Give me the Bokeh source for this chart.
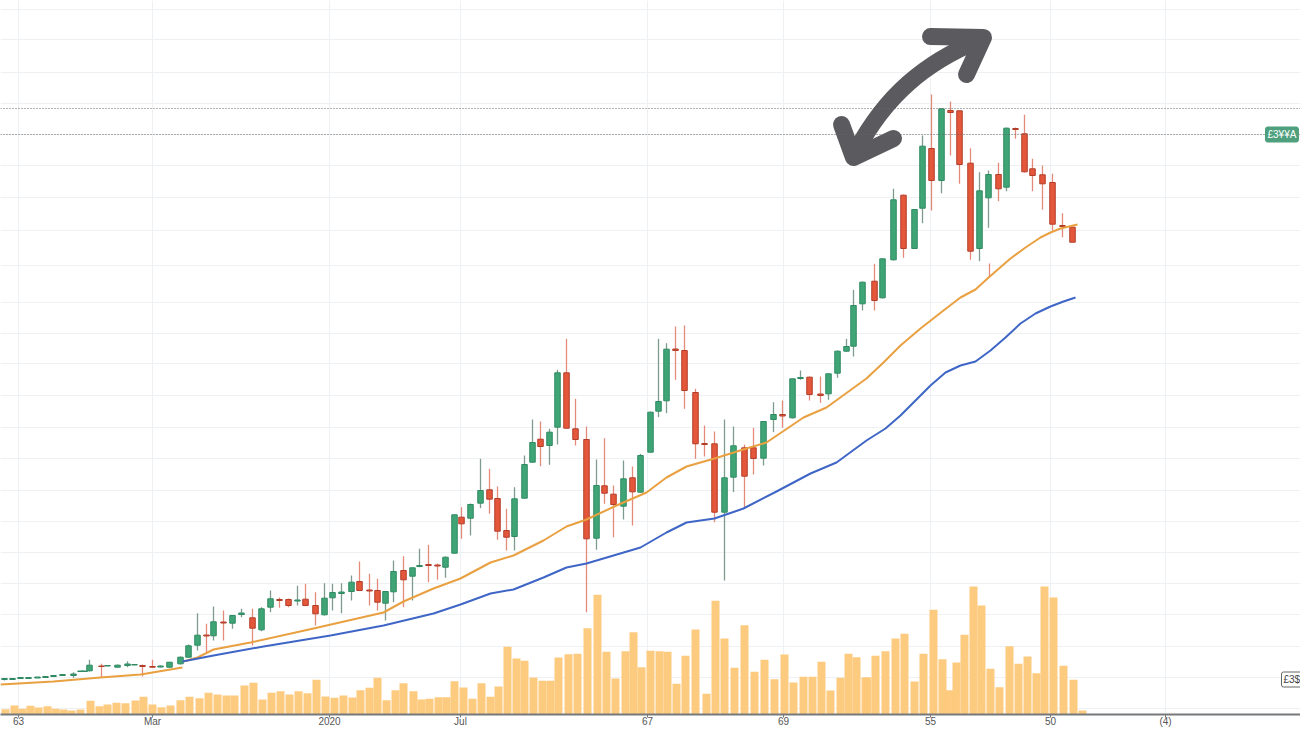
from bokeh.embed import file_html
from bokeh.resources import INLINE
from bokeh.plotting import figure
from bokeh.models import Range1d, FixedTicker, Span, Label

# ---- candles (day, open, close, high, low)
day = [4,12,20,28,37,45,53,62,73,80,84,89,101,107,117,127,134,142,152,160,169,180,188,197,206,213,223,232,241,252,261,270,279,288,297,305,315,324,332,341,351,359,369,377,385,393,403,412,419,428,437,445,454,461,470,480,489,497,506,514,524,532,540,549,557,566,575,586,596,604,613,623,632,640,650,658,666,675,684,695,704,714,724,733,744,753,763,773,782,792,800,809,820,828,837,846,853,862,874,882,893,903,914,922,931,941,950,959,970,979,988,998,1006,1015,1024,1032,1042,1052,1062,1072]
open_ = [35,35,36,36,36.5,37,38,39,39,43,43,43.7,48.5,48.5,47.3,49,49.5,49,48,47.5,47.3,50.7,57.3,69.3,79.5,78.7,92.5,91.3,100,96.7,84.7,107.3,115,115,113.5,115.3,109,99.7,116.7,121,123,133,124.5,124,111.3,122.7,144,138.3,148,150,149.5,147.3,161.3,197.3,196.3,211.3,224.7,216,184,178,216.3,252.3,275.3,269,287.3,341.7,285.7,275,176.3,228.7,220.3,208.3,236.7,222.3,262.3,303.3,313.7,365.5,364,322,271,270.7,202.3,237.3,266.7,266.7,256.3,295,300,296.7,336,337.3,320.5,320.7,341.3,363.3,368.3,410.7,433.3,416.7,454.7,519.3,466,506.3,566,534,604,603.7,551.3,466,516.7,540,527.3,586,580.7,545.7,539.7,532,489,487.3]
close = [36,36,37,37,37.5,38,39,40,40.5,43.5,43.5,49.3,48,49,49.3,50.5,50,48,47.3,48.5,52.3,57.3,68.7,79.3,78.5,92.7,91.5,99,101.5,86.3,105.7,115.7,114,109,114.5,109,100.7,116.3,122,122.5,132.3,124,123.5,112.3,123,143,134.7,146.7,149,149,148.5,157.3,199.7,190.7,210,224,215.3,183.3,177.3,215.7,250,272,268,282.3,341.7,286.3,275,175.7,229,221.3,210,235.7,222.7,259,302.3,313,365.3,364,324,270.7,270,202.3,236.7,268.7,238.3,256,293,300,298.5,335.7,337,320,319,340.7,363.3,368,409,432.3,414,455.7,514.7,466,505,568.3,534,605.7,602,550,463.3,523.7,540,525.7,586.3,585,542.7,539,530.7,490.3,488,472.3]
high = [36,36,37,37,37.5,38,39,40,42.3,43.5,43.5,54.7,50.7,49,50,53.3,50,50,54.7,49,52.5,58,70,101.3,90.7,108,104,99.5,105.7,105.7,107.3,124,117,116,128.7,130.7,122.3,131.3,130.7,131.3,139,153,140.7,135.7,123.5,154,158.3,146.7,165.7,169.7,151,158,200,207.3,211,255.7,245.7,228,205.7,227.3,259,295,293,285.7,344.7,375.7,315.7,288,255,276.3,229,254,248,260.7,303,375.7,371.3,388,389,325.7,289,283,295,288,270,286.7,293.5,312.3,314,336,344,338,338,341,364,375.7,424.7,433,450.7,456,525.7,520,505.5,579,620,606,613,604,566.3,542.3,544,551.7,587,587,599.7,555.7,549,540.7,501.3,488]
low = [34,35,36,36,36.5,37,38,39,36.7,43,43,43,37.3,48.5,47,47.3,49.5,38,46.7,47,47,50,57,64,62.3,74,74,85.7,97.3,69,83.3,102.3,106.7,107.3,109,108.3,89,99,104,101.3,114,124,109,104,94,112.3,107.3,114,147.3,132.3,134.7,136.7,161,175.7,179,206.3,200.7,174.7,164,164,216,252,248.3,249.7,270,286,269,102.3,164.7,210.7,177.3,195,189,222,262,297.3,301.3,334.7,305.7,255.7,258,192.3,134,222.3,205.7,240,249,282.3,286.7,296,334.7,314,311.7,314.7,336.7,362.7,358,404,404,416,454,456.7,465.5,491.3,504,521.3,559,530.7,454.7,453.3,486.7,513.3,523.3,575.7,542,523.3,504.7,484,477.3,472]

# ---- one loose wick near the right-hand peak
stray_day = [989]
stray_high = [451]
stray_low = [437]

# ---- volume
vol_day = [5,14,22,30,38,47,55,63,71,80,90,99,107,116,125,135,143,152,161,170,180,189,199,208,217,226,234,244,253,262,271,280,289,298,307,316,325,334,343,352,360,369,377,386,395,403,413,421,429,438,446,454,463,472,481,490,498,507,516,524,533,542,550,558,568,577,587,597,606,615,625,633,641,650,659,667,676,685,695,706,715,724,734,744,754,764,774,784,793,803,812,821,830,840,848,856,865,867,875,885,895,904,914,923,933,942,949,956,964,973,981,990,999,1009,1018,1027,1036,1044,1053,1063,1073,1082]
volume = [5.3,9,5.7,8.7,7,8.3,5.7,5,4,5,13.7,8.3,10,11.7,11.3,14,17.7,10,7.3,9,14.3,17.7,16.3,21.7,20,19,19,29,31.7,15,21.7,23.3,20,23.3,21.3,34.7,18,16.7,19,17,24.3,26.7,36.7,14.3,24.3,31.3,23.3,15,15.7,17.3,17.3,33.3,27,15.7,31.3,17.7,28,67.7,56,53.7,37,33.7,33.7,57,60.3,60.7,86.3,119.7,62.7,36,63.3,82.3,47.3,63.7,63.3,62.7,30.7,58.7,85,20.7,113.7,76,46.7,89.3,42.7,54.7,35.3,60,32,37.7,37.7,52.7,24,36.7,60.7,57.3,37,37,58.7,63.3,76,80.7,33,60.7,104.7,55.3,24.3,52,79.7,128,109,45.7,27.3,68.3,50.7,58,41.3,128,117,48.7,34.7,4]

# ---- moving averages
orange_early_day = [0,53,100,140,182]
orange_early = [30,33,37,40,47]
orange_day = [183,197,213,250,313,383,403,433,460,490,513,543,566,586,616,646,666,686,714,746,766,803,826,866,883,900,920,943,960,975,987,1010,1025,1040,1050,1060,1077]
orange = [53,57,65,72,86,102,113,126,136,152,159,174,188,195,209,222,237,248,256,266,272,297,307,336,352,369,386,404,417,425,436,456,467,477,482,486,490]
blue_day = [182,213,263,330,383,433,460,490,513,543,566,586,613,640,666,686,714,743,776,810,836,866,885,900,915,930,945,960,975,990,1005,1020,1035,1050,1063,1075]
blue = [53,59,68,79,89,101,110,121,125,137,147,151,159,167,182,192,196,206,223,241,252,274,286,299,314,329,342,349,353,364,377,391,401,408,413,417]

# ---- reference levels, grid, ticks
level_prices = [606, 580]
grid_levels = [6,37,68,100,131,162,193,224,256,287,319,351,381,412,449,484,517,549,580,611,642,675,705]
tick_days = [18,152,329,460,647,783,930,1050,1165]
tick_labels = ["63","Mar","2020","Jul","67","69","55","50","(4)"]
last_tag_text = "£3¥¥A"
vol_tag_text = "£3$"

# ---- hand-drawn arrow
arrow_start = (856, 564); arrow_end = (978, 674)
arrow_ctrl_a = (885, 619); arrow_ctrl_b = (925, 652)
head_up_day = [930, 983, 966]; head_up = [678, 677, 640]
head_down_day = [841, 853, 893]; head_down = [590, 557, 576]

UP, UP_EDGE, UP_WICK = "#3FA577", "#2F8A62", "#7E9C8D"
DOWN, DOWN_EDGE, DOWN_WICK = "#E4573B", "#B23E2A", "#E38A7B"

p = figure(width=1300, height=729, output_backend="svg", toolbar_location=None,
           x_range=Range1d(0, 1300), y_range=Range1d(0, 714),
           min_border_left=0, min_border_right=0, min_border_top=0, min_border_bottom=15,
           background_fill_color="white", border_fill_color="white")
p.outline_line_color = None
p.yaxis.visible = False
p.ygrid.ticker = FixedTicker(ticks=grid_levels)
p.xgrid.ticker = FixedTicker(ticks=tick_days)
p.grid.grid_line_color = "#EEF1F4"
p.grid.grid_line_width = 1
ax = p.xaxis[0]
ax.ticker = FixedTicker(ticks=tick_days)
ax.major_label_overrides = dict(zip(tick_days, tick_labels))
ax.axis_line_color = "#77787A"; ax.axis_line_width = 2
ax.major_tick_line_color = "#77787A"; ax.major_tick_out = 3; ax.major_tick_in = 0
ax.minor_tick_line_color = None
ax.major_label_standoff = -2
ax.major_label_text_font = "Liberation Sans"
ax.major_label_text_font_size = "10px"
ax.major_label_text_color = "#555555"

p.vbar(x=vol_day, top=volume, bottom=0, width=8, fill_color="#FDC878", fill_alpha=0.95, line_color=None)

for price in level_prices:
    p.add_layout(Span(location=price, dimension="width", line_color="#666666", line_width=1, line_dash=[1, 2]))

up = [c >= o for o, c in zip(open_, close)]
wick_colors = [UP_WICK if u else DOWN_WICK for u in up]
fill_colors = [UP if u else DOWN for u in up]
edge_colors = [UP_EDGE if u else DOWN_EDGE for u in up]
p.segment(day, high, day, low, line_color=wick_colors, line_width=1.3)
p.segment(stray_day, stray_high, stray_day, stray_low, line_color=DOWN_WICK, line_width=1.3)
p.vbar(x=day, top=[max(a, b) for a, b in zip(open_, close)], bottom=[min(a, b) for a, b in zip(open_, close)],
       width=5.5, fill_color=fill_colors, line_color=edge_colors, line_width=1)

p.line(orange_early_day, orange_early, line_color="#E9A040", line_width=2, line_join="round")
p.line(orange_day, orange, line_color="#E9A040", line_width=2, line_join="round")
p.line(blue_day, blue, line_color="#3F66C6", line_width=2, line_join="round")

ARROW = "#5B5B5F"
p.bezier(x0=[arrow_start[0]], y0=[arrow_start[1]], x1=[arrow_end[0]], y1=[arrow_end[1]],
         cx0=[arrow_ctrl_a[0]], cy0=[arrow_ctrl_a[1]], cx1=[arrow_ctrl_b[0]], cy1=[arrow_ctrl_b[1]],
         line_color=ARROW, line_width=17, line_cap="round")
p.line(head_up_day, head_up, line_color=ARROW, line_width=17, line_cap="round", line_join="round")
p.line(head_down_day, head_down, line_color=ARROW, line_width=17, line_cap="round", line_join="round")

p.add_layout(Label(x=1265, y=580, text=last_tag_text, text_font="Liberation Sans", text_font_size="10px",
                   text_color="white", text_baseline="middle", background_fill_color="#4E9F7D",
                   border_line_color="#4E9F7D", border_radius=2, padding=2))
p.add_layout(Label(x=1281, y=35, text=vol_tag_text, text_font="Liberation Sans", text_font_size="10px",
                   text_color="#444444", text_baseline="middle", background_fill_color="white",
                   border_line_color="#666666", border_radius=2, padding=2))

open("out.html", "w").write(file_html(p, INLINE))
